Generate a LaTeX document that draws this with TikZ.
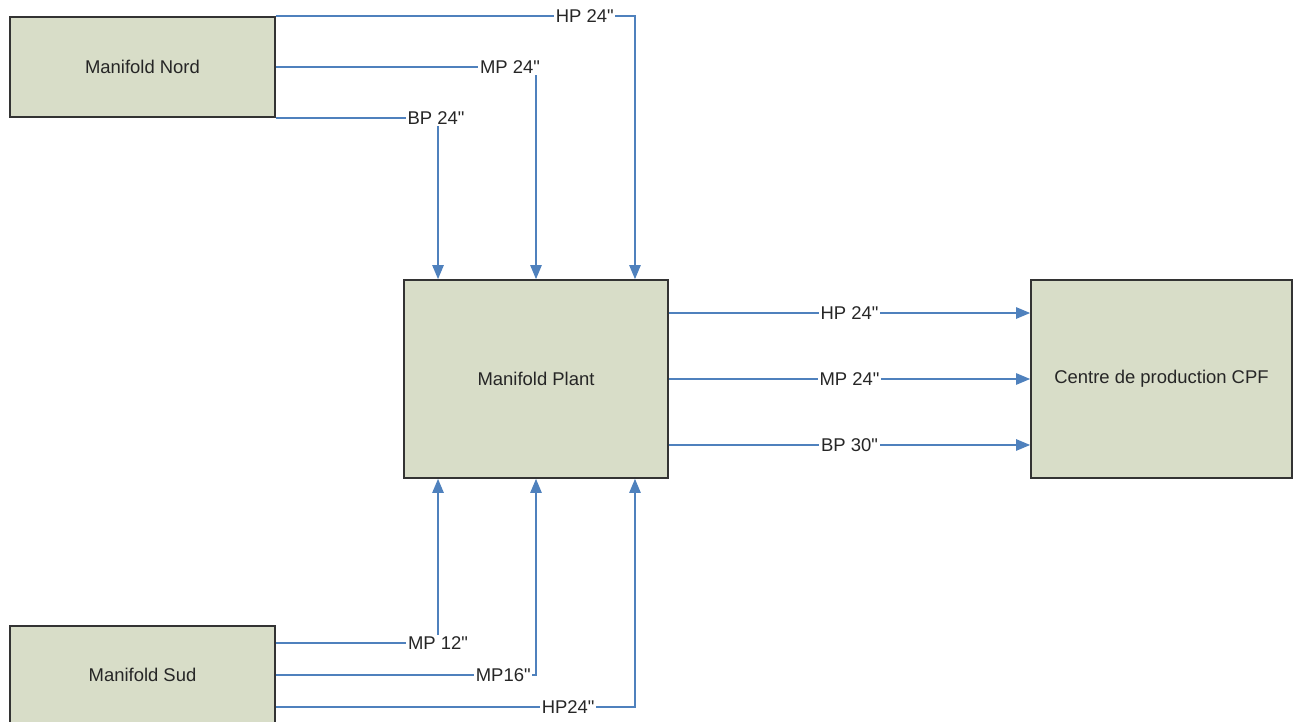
\documentclass[tikz,border=0pt]{standalone}
\usepackage{fontspec}
\setmainfont{Liberation Sans}[Ligatures=TeXOff]
\usetikzlibrary{arrows.meta}
\definecolor{boxfill}{RGB}{216,221,200}
\definecolor{pipeblue}{RGB}{79,129,189}
\tikzset{
    manifold/.style={draw=black!80,line width=1pt,fill=boxfill,minimum width=5.3cm,minimum height=2cm,inner sep=0pt,text=black!85,font=\fontsize{10.5}{12}\selectfont},
    pipe/.style={draw=pipeblue,line width=0.8pt,-{Triangle[length=8pt,width=6.5pt,fill=pipeblue]}},
    pipelbl/.style={fill=white,inner sep=1pt,text=black!85,font=\fontsize{10.5}{12}\selectfont}
}
\begin{document}
\begin{tikzpicture}[x=0.02cm,y=-0.02cm]
            \useasboundingbox (0,0) rectangle (1300,722);
            \node[manifold] (nord) at (142.5,67) {Manifold Nord};
            \node[manifold,minimum width=5.28cm,minimum height=3.96cm] (plant) at (536,379) {Manifold Plant};
            \node[manifold,minimum width=5.22cm,minimum height=3.96cm] (cpf) at (1161.5,379) {Centre de production CPF};
            \node[manifold,minimum height=1.96cm] (sud) at (142.5,675) {Manifold Sud};
            \draw[pipe] (nord.north east) -| node[pipelbl,pos=0.43]{HP 24"} ([xshift=1.98cm]plant.north);
            \draw[pipe] (nord.east) -| node[pipelbl,pos=0.45]{MP 24"} (plant.north);
            \draw[pipe] (nord.south east) -| node[pipelbl,pos=0.494]{BP 24"} ([xshift=-1.96cm]plant.north);
            \draw[pipe] ([yshift=0.64cm]sud.east) -| node[pipelbl,pos=0.5]{MP 12"} ([xshift=-1.96cm]plant.south);
            \draw[pipe] (sud.east) -| node[pipelbl,pos=0.437]{MP16"} (plant.south);
            \draw[pipe] ([yshift=-0.64cm]sud.east) -| node[pipelbl,pos=0.407]{HP24"} ([xshift=1.98cm]plant.south);
            \draw[pipe] ([yshift=1.32cm]plant.east) -- node[pipelbl]{HP 24"} ([yshift=1.32cm]plant.east -| cpf.west);
            \draw[pipe] (plant.east) -- node[pipelbl]{MP 24"} (cpf.west);
            \draw[pipe] ([yshift=-1.32cm]plant.east) -- node[pipelbl]{BP 30"} ([yshift=-1.32cm]plant.east -| cpf.west);
        \end{tikzpicture}
\end{document}
